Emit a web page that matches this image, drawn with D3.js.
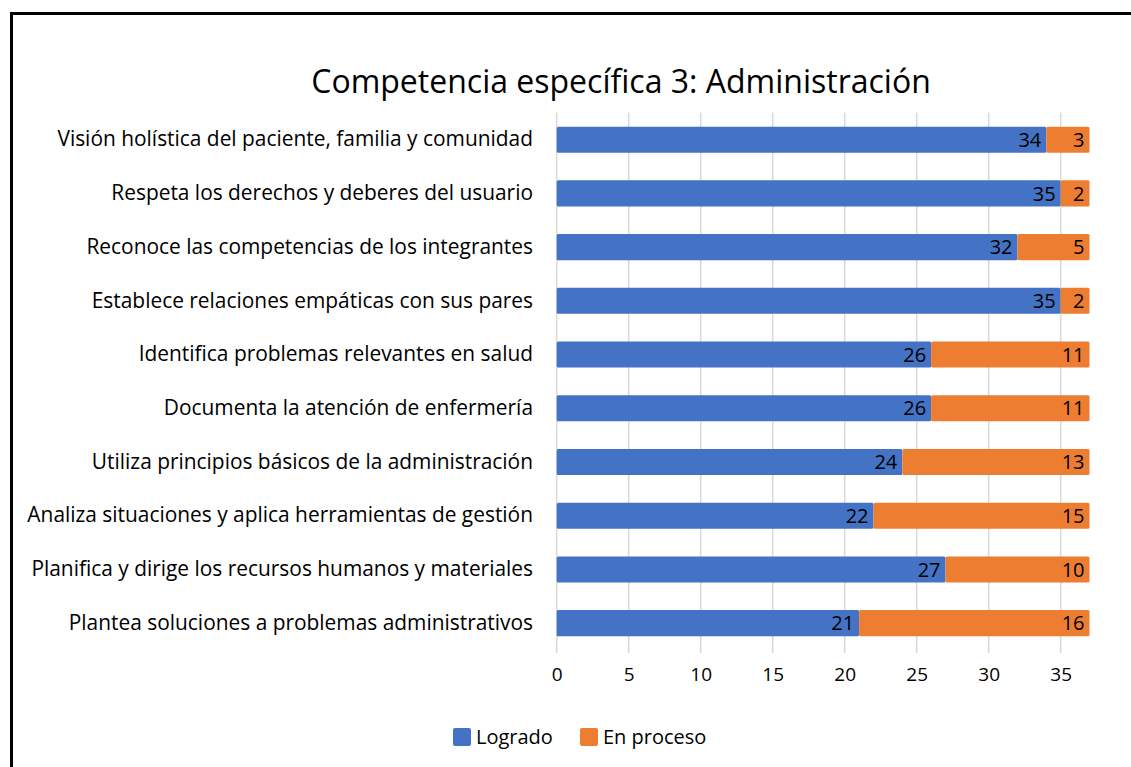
<!DOCTYPE html>
<html>
<head>
<meta charset="utf-8">
<script src="https://cdn.jsdelivr.net/npm/d3@7"></script>
<style>
  body { margin: 0; background: #fff; }
  text { font-family: "Open Sans", "Noto Sans", sans-serif; fill: #000; }
</style>
</head>
<body>
<svg id="chart" width="1131" height="767"></svg>
<script>
// data, top to bottom
const categories = [
    "Visión holística del paciente, familia y comunidad",
    "Respeta los derechos y deberes del usuario",
    "Reconoce las competencias de los integrantes",
    "Establece relaciones empáticas con sus pares",
    "Identifica problemas relevantes en salud",
    "Documenta la atención de enfermería",
    "Utiliza principios básicos de la administración",
    "Analiza situaciones y aplica herramientas de gestión",
    "Planifica y dirige los recursos humanos y materiales",
    "Plantea soluciones a problemas administrativos"
];
const logrado = [34, 35, 32, 35, 26, 26, 24, 22, 27, 21];
const enProceso = [3, 2, 5, 2, 11, 11, 13, 15, 10, 16];
const xTicks = [0, 5, 10, 15, 20, 25, 30, 35];
const seriesNames = ["Logrado", "En proceso"];
const colors = ["#4472C4", "#ED7D31"];

let svg = d3.select("#chart");

// outer frame (only top and left edges are in view)
svg.append("rect")
    .attr("x", 11.5).attr("y", 13.5)
    .attr("width", 1200).attr("height", 800)
    .attr("fill", "none").attr("stroke", "#000").attr("stroke-width", 3);

let plot = {left: 556.7, right: 1089.5, top: 112.8, bottom: 650};

let xScale = d3.scaleLinear()
    .domain([0, 37])
    .range([plot.left, plot.right]);

let yScale = d3.scaleBand()
    .domain(categories)
    .range([plot.top, plot.bottom])
    .paddingInner(0.515)
    .paddingOuter(0.2575);

// gridlines
svg.append("g").selectAll("line")
    .data(xTicks)
    .join("line")
    .attr("x1", d => xScale(d)).attr("x2", d => xScale(d))
    .attr("y1", plot.top).attr("y2", plot.bottom + 3)
    .attr("stroke", "#d9d9d9").attr("stroke-width", 1.5);

// x axis labels
let xAxis = d3.axisBottom(xScale).tickValues(xTicks).tickSize(0).tickPadding(0);
let xg = svg.append("g")
    .attr("transform", "translate(0," + 667 + ")")
    .call(xAxis);
xg.select(".domain").remove();
xg.selectAll("text")
    .attr("font-size", "19px")
    .attr("font-family", "'Open Sans', sans-serif")
    .attr("fill", "#000");

// category labels
let yAxis = d3.axisLeft(yScale).tickSize(0).tickPadding(0);
let yg = svg.append("g")
    .attr("transform", "translate(" + 533 + ",0)")
    .call(yAxis);
yg.select(".domain").remove();
yg.selectAll("text")
    .attr("font-size", "20.9px")
    .attr("font-family", "'Open Sans', sans-serif")
    .attr("fill", "#000");

// stacked bars
let rows = categories.map((c, i) => ({cat: c, values: [logrado[i], enProceso[i]]}));

let barGroups = svg.append("g").selectAll("g")
    .data(rows)
    .join("g")
    .attr("transform", d => "translate(0," + yScale(d.cat) + ")");

barGroups.each(function (d) {
    let g = d3.select(this);
    let start = 0;
    d.values.forEach((v, k) => {
        let x0 = xScale(start), x1 = xScale(start + v);
        g.append("rect")
            .attr("x", x0).attr("y", 0)
            .attr("width", x1 - x0)
            .attr("height", yScale.bandwidth())
            .attr("rx", 1.5)
            .attr("fill", colors[k]);
        g.append("text")
            .attr("x", x1 - 5)
            .attr("y", yScale.bandwidth() / 2)
            .attr("dy", "0.36em")
            .attr("text-anchor", "end")
            .attr("font-size", "20px")
            .text(v);
        start += v;
    });
});

// title
svg.append("text")
    .attr("x", 621).attr("y", 93)
    .attr("text-anchor", "middle")
    .attr("font-size", "32px")
    .text("Competencia específica 3: Administración");

// legend
let legendX = [453, 580];
let legend = svg.append("g").selectAll("g")
    .data(seriesNames)
    .join("g")
    .attr("transform", (d, i) => "translate(" + legendX[i] + "," + 728 + ")");
legend.append("rect")
    .attr("width", 18).attr("height", 18).attr("rx", 2)
    .attr("fill", (d, i) => colors[i]);
legend.append("text")
    .attr("x", 23).attr("y", 9).attr("dy", "0.36em")
    .attr("font-size", "20px")
    .text(d => d);
</script>
</body>
</html>
